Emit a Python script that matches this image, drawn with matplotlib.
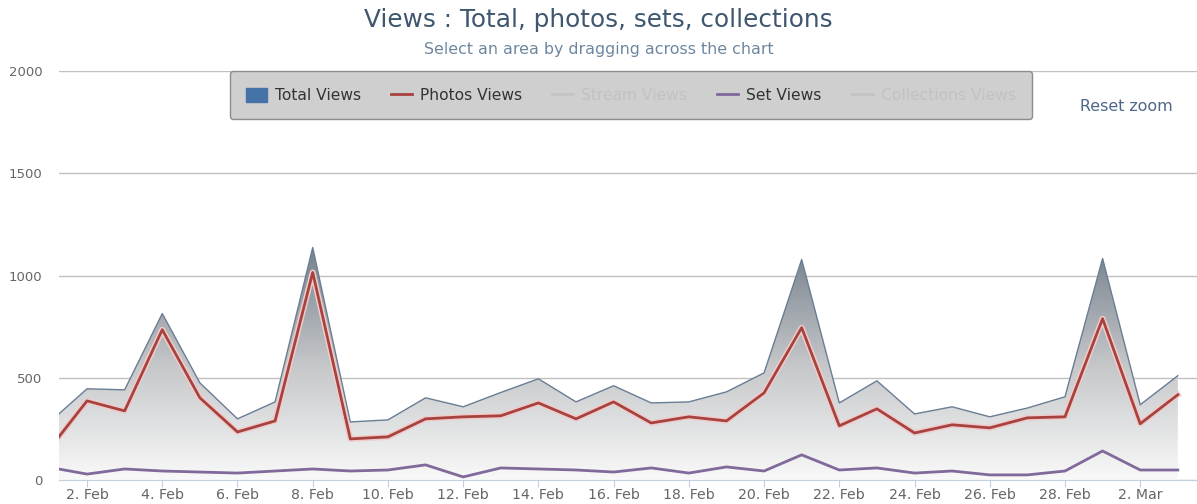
import datetime as dt
import numpy as np
import matplotlib
matplotlib.use("Agg")
import matplotlib.pyplot as plt
import matplotlib.dates as mdates
import matplotlib.patheffects as pe
from matplotlib.colors import LinearSegmentedColormap
from matplotlib.lines import Line2D
from matplotlib.patches import Patch

# daily values, 1 Feb .. 3 Mar (1 Feb is partly outside the zoomed view)
start = dt.date(2013, 2, 1)
days = [start + dt.timedelta(days=i) for i in range(31)]

total_views = [282, 446, 441, 814, 475, 299, 382, 1137, 284, 294,
               402, 358, 428, 495, 382, 461, 377, 382, 431, 524,
               1078, 377, 485, 323, 358, 309, 352, 407, 1083, 368, 510]
photos_views = [152, 387, 338, 735, 402, 235, 289, 1015, 201, 211,
                299, 309, 314, 377, 299, 382, 279, 309, 289, 426,
                745, 265, 348, 230, 270, 255, 304, 309, 789, 275, 417]
set_views = [62, 29, 54, 44, 39, 34, 44, 54, 44, 49,
             74, 15, 59, 54, 49, 39, 59, 34, 64, 44,
             123, 49, 59, 34, 44, 25, 25, 44, 142, 49, 49]

y_ticks = [0, 500, 1000, 1500, 2000]

x = mdates.date2num(days)

fig = plt.figure(figsize=(11.97, 5.04), dpi=100)
ax = fig.add_axes([0.0493, 0.0476, 0.9507, 0.8115])

# gradient area for total views
poly = ax.fill_between(x, 0, total_views, facecolor="none", edgecolor="none")
cmap = LinearSegmentedColormap.from_list("grad", ["#f9f9f9", "#c4c6c8", "#76818d"])
grad = np.linspace(0, 1, 256).reshape(-1, 1)
img = ax.imshow(grad, cmap=cmap, origin="lower", aspect="auto",
                extent=[x[0], x[-1], 0, max(total_views)], zorder=1)
img.set_clip_path(poly.get_paths()[0], transform=ax.transData)
ax.plot(x, total_views, color="#6a7d93", lw=1, zorder=3)

ax.plot(x, photos_views, color="#a8423f", lw=2, zorder=4,
        path_effects=[pe.Stroke(linewidth=4.2, foreground="#efcccc"), pe.Normal()])
ax.plot(x, set_views, color="#80699b", lw=2, zorder=4)

ax.set_xlim(x[0] + 0.255, x[0] + 30.51)
ax.set_ylim(0, 2000)
ax.set_yticks(y_ticks)
ax.yaxis.grid(True, color="#c0c0c0", lw=1)
ax.set_axisbelow(True)

ax.xaxis.set_major_locator(mdates.DayLocator(bymonthday=range(2, 31, 2)))
ax.xaxis.set_major_formatter(plt.FuncFormatter(
    lambda v, p: "%d. %s" % (mdates.num2date(v).day, mdates.num2date(v).strftime("%b"))))

for s in ["top", "right", "left"]:
    ax.spines[s].set_visible(False)
ax.spines["bottom"].set_color("#c0d0e0")
ax.tick_params(axis="x", colors="#c0d0e0", length=5, labelcolor="#666666",
               labelsize=10.2, pad=1)
ax.tick_params(axis="y", length=0, labelcolor="#666666", labelsize=9.5, pad=12)

fig.text(0.5, 0.960, "Views : Total, photos, sets, collections", ha="center", va="center",
         fontsize=17.8, color="#3e576f")
fig.text(0.5, 0.901, "Select an area by dragging across the chart", ha="center", va="center",
         fontsize=11.4, color="#6d869f")
fig.text(0.941, 0.788, "Reset zoom", ha="center", va="center", fontsize=11.4, color="#4d6788")

handles = [
    Patch(facecolor="#4572a7", edgecolor="#4572a7"),
    Line2D([], [], color="#a8423f", lw=2),
    Line2D([], [], color="#c4c4c4", lw=2),
    Line2D([], [], color="#80699b", lw=2),
    Line2D([], [], color="#c4c4c4", lw=2),
]
labels = ["Total Views", "Photos Views", "Stream Views", "Set Views", "Collections Views"]
leg = ax.legend(handles, labels, ncol=5, loc="center", bbox_to_anchor=(0.527, 0.811),
                bbox_transform=fig.transFigure, fontsize=11.2, frameon=True, fancybox=True,
                facecolor="#cfcfcf", edgecolor="#8c8c8c", framealpha=1,
                handlelength=1.35, handleheight=1.0, handletextpad=0.5,
                columnspacing=1.95, borderpad=1.05)
leg.set_zorder(10)
for t, c in zip(leg.get_texts(), ["#333333", "#333333", "#c2c2c2", "#333333", "#c2c2c2"]):
    t.set_color(c)

fig.savefig("out.png", dpi=100)
